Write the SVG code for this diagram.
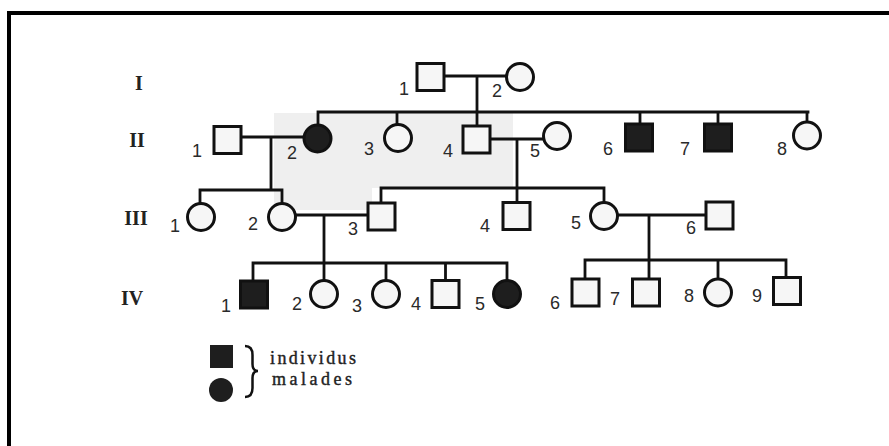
<svg xmlns="http://www.w3.org/2000/svg" width="889" height="446" viewBox="0 0 889 446">
<style>
.sq,.ci{fill:#f6f6f6;stroke:#111;stroke-width:3}
.aff{fill:#1e1e1e}
.ln{stroke:#111;stroke-width:2.8;fill:none;stroke-linecap:square}
.num{font-family:"Liberation Sans",Arial,sans-serif;font-size:18px;fill:#2a2a2a;text-anchor:middle}
.gen{font-family:"Liberation Serif","Times New Roman",serif;font-size:20px;font-weight:bold;fill:#222;text-anchor:middle}
.leg{font-family:"Liberation Serif","Times New Roman",serif;font-size:18px;fill:#222;stroke:#222;stroke-width:0.4}
</style>
<rect width="889" height="446" fill="#fff"/>
<g id="frame">
<line x1="7" y1="13" x2="889" y2="13" stroke="#000" stroke-width="4"/>
<line x1="9" y1="11" x2="9" y2="446" stroke="#000" stroke-width="4"/>
</g>
<polygon id="shade" points="274,113 513,113 513,188 372,188 372,210 274,210" fill="#efefef"/>
<g id="generations">
<text class="gen" x="139" y="90">I</text>
<text class="gen" x="137" y="147">II</text>
<text class="gen" x="136" y="225">III</text>
<text class="gen" x="132" y="305">IV</text>
</g>
<g id="connectors">
<path class="ln" d="M444 76 H506 M477 76 V126"/>
<path class="ln" d="M318 112 H808 M318 112 V125 M397 112 V124.5 M640 112 V124 M718 112 V124 M807 112 V122"/>
<path class="ln" d="M241 137 H304 M271 137 V190 M200 190 H282 M200 190 V203 M282 190 V203"/>
<path class="ln" d="M490 139 H544 M517 139 V203 M381 188 H604 M381 188 V203 M604 188 V202.5"/>
<path class="ln" d="M295.5 215 H368 M324 215 V263 M253 263 H507 M253 263 V280.5 M324 263 V280.5 M386 263 V280.5 M445.5 263 V280.5 M507 263 V280.5"/>
<path class="ln" d="M617.5 215 H706 M649 215 V279 M585 260 H786 M585 260 V279 M718 260 V279 M786 260 V277.5"/>
</g>
<g id="I-1"><rect class="sq" x="417" y="63.5" width="27" height="27"/><text class="num" x="404" y="95">1</text></g>
<g id="I-2"><circle class="ci" cx="520" cy="77" r="13.5"/><text class="num" x="497" y="97">2</text></g>
<g id="II-1"><rect class="sq" x="214" y="126.5" width="27" height="27"/><text class="num" x="197" y="157">1</text></g>
<g id="II-2"><circle class="ci aff" cx="317.5" cy="138.5" r="13.5"/><text class="num" x="292" y="159">2</text></g>
<g id="II-3"><circle class="ci" cx="398" cy="138" r="13.5"/><text class="num" x="369" y="155">3</text></g>
<g id="II-4"><rect class="sq" x="463" y="126" width="27" height="27"/><text class="num" x="448" y="157">4</text></g>
<g id="II-5"><circle class="ci" cx="557" cy="136" r="13.5"/><text class="num" x="535" y="157">5</text></g>
<g id="II-6"><rect class="sq aff" x="625.5" y="124" width="27" height="27"/><text class="num" x="608" y="155">6</text></g>
<g id="II-7"><rect class="sq aff" x="704.5" y="124" width="27" height="27"/><text class="num" x="685" y="155">7</text></g>
<g id="II-8"><circle class="ci" cx="807" cy="135.5" r="13.5"/><text class="num" x="782" y="155">8</text></g>
<g id="III-1"><circle class="ci" cx="201" cy="217" r="13.5"/><text class="num" x="175" y="232">1</text></g>
<g id="III-2"><circle class="ci" cx="282" cy="217" r="13.5"/><text class="num" x="253" y="230">2</text></g>
<g id="III-3"><rect class="sq" x="368" y="203" width="27" height="27"/><text class="num" x="353" y="235">3</text></g>
<g id="III-4"><rect class="sq" x="503" y="202.5" width="27" height="27"/><text class="num" x="485" y="232">4</text></g>
<g id="III-5"><circle class="ci" cx="604" cy="216" r="13.5"/><text class="num" x="576" y="229">5</text></g>
<g id="III-6"><rect class="sq" x="706" y="202" width="27" height="27"/><text class="num" x="691" y="234">6</text></g>
<g id="IV-1"><rect class="sq aff" x="240.5" y="281" width="27" height="27"/><text class="num" x="226" y="312">1</text></g>
<g id="IV-2"><circle class="ci" cx="324" cy="294" r="13.5"/><text class="num" x="297" y="310">2</text></g>
<g id="IV-3"><circle class="ci" cx="386" cy="294" r="13.5"/><text class="num" x="357" y="312">3</text></g>
<g id="IV-4"><rect class="sq" x="432" y="280.5" width="27" height="27"/><text class="num" x="416" y="310">4</text></g>
<g id="IV-5"><circle class="ci aff" cx="507" cy="294" r="13.5"/><text class="num" x="480" y="310">5</text></g>
<g id="IV-6"><rect class="sq" x="572" y="279" width="27" height="27"/><text class="num" x="555" y="309">6</text></g>
<g id="IV-7"><rect class="sq" x="632.5" y="279" width="27" height="27"/><text class="num" x="615" y="305">7</text></g>
<g id="IV-8"><circle class="ci" cx="718" cy="292.5" r="13.5"/><text class="num" x="689" y="302">8</text></g>
<g id="IV-9"><rect class="sq" x="773.5" y="277.5" width="27" height="27"/><text class="num" x="757" y="302">9</text></g>
<g id="legend">
<rect x="210" y="345" width="23" height="23" fill="#1e1e1e"/>
<circle cx="221" cy="390" r="12" fill="#1e1e1e"/>
<path d="M245 346 Q252.5 346 252.5 355 L252.5 364 Q252.5 371 258 371 Q252.5 371 252.5 378 L252.5 388 Q252.5 397 245 397" fill="none" stroke="#111" stroke-width="2.5"/>
<text class="leg" x="270" y="364" textLength="86" lengthAdjust="spacing">individus</text>
<text class="leg" x="272" y="385" textLength="80" lengthAdjust="spacing">malades</text>
</g>
</svg>
